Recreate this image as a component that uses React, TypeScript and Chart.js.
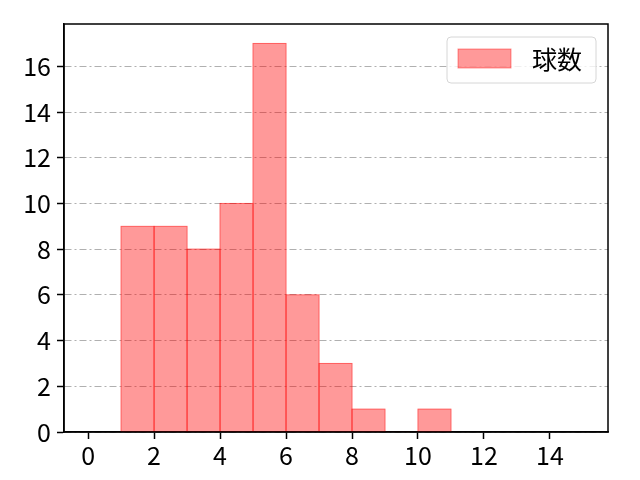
import { useEffect, useRef } from "react";
import { Chart, registerables } from "chart.js";

Chart.register(...registerables);

// histogram bins (left edges, width 1) and counts
const binStarts = [1, 2, 3, 4, 5, 6, 7, 8, 9, 10];
const counts = [9, 9, 8, 10, 17, 6, 3, 1, 0, 1];
const legendLabel = "球数";

const xMin = -0.73;
const xMax = 15.76;
const yMax = 17.85;

const FONT = "'Noto Sans CJK JP', 'Noto Sans', sans-serif";
const FILL = "rgba(255, 0, 0, 0.4)";
const EDGE = "rgba(255, 0, 0, 0.4)";

// matplotlib-style edges: stroke centred on each bar outline
const edgePlugin = {
  id: "barEdges",
  afterDatasetsDraw(chart: Chart) {
    const { ctx } = chart;
    const meta = chart.getDatasetMeta(0);
    ctx.save();
    ctx.strokeStyle = EDGE;
    ctx.lineWidth = 1;
    meta.data.forEach((el: any) => {
      const { x, y, base, width } = el.getProps(["x", "y", "base", "width"], true);
      if (Math.abs(base - y) < 0.5) return;
      ctx.strokeRect(x - width / 2, y, width, base - y);
    });
    ctx.restore();
  },
};

const framePlugin = {
  id: "frameAndLegend",
  afterDraw(chart: Chart) {
    const { ctx, chartArea } = chart;
    const { left, top, right, bottom } = chartArea;
    ctx.save();
    // box around plot
    ctx.strokeStyle = "#000";
    ctx.lineWidth = 1.5;
    ctx.strokeRect(left, top, right - left, bottom - top);

    // legend inside, upper right
    const w = 149;
    const h = 46;
    const lx = right - 12 - w;
    const ly = top + 13;
    ctx.beginPath();
    ctx.roundRect(lx, ly, w, h, 4);
    ctx.fillStyle = "rgba(255,255,255,0.8)";
    ctx.fill();
    ctx.strokeStyle = "#d6d6d6";
    ctx.lineWidth = 1;
    ctx.stroke();

    ctx.fillStyle = FILL;
    ctx.fillRect(lx + 11, ly + 12, 53, 19);
    ctx.strokeStyle = EDGE;
    ctx.strokeRect(lx + 11, ly + 12, 53, 19);

    ctx.fillStyle = "#000";
    ctx.font = `25px ${FONT}`;
    ctx.textBaseline = "middle";
    ctx.textAlign = "left";
    ctx.fillText(legendLabel, lx + 85, ly + 22);
    ctx.restore();
  },
};

export default function App() {
  const chartRef = useRef<HTMLCanvasElement | null>(null);
  const chartInstance = useRef<Chart | null>(null);

  useEffect(() => {
    document.body.style.margin = "0";
    if (!chartRef.current) return;
    if (chartInstance.current) chartInstance.current.destroy();
    const ctx = chartRef.current.getContext("2d");
    if (!ctx) return;

    const data = binStarts.map((s, i) => ({ x: s + 0.5, y: counts[i] }));

    chartInstance.current = new Chart(ctx, {
      type: "bar",
      data: {
        datasets: [
          {
            label: legendLabel,
            data,
            backgroundColor: FILL,
            borderWidth: 0,
            barPercentage: 1,
            categoryPercentage: 1,
          },
        ],
      },
      options: {
        responsive: false,
        animation: false,
        layout: { padding: { top: 24, right: 32, left: 0, bottom: 0 } },
        plugins: {
          legend: { display: false },
          tooltip: { enabled: false },
        },
        scales: {
          x: {
            type: "linear",
            min: xMin,
            max: xMax,
            offset: false,
            afterFit: (scale) => {
              scale.height = 48;
            },
            ticks: {
              stepSize: 2,
              includeBounds: false,
              color: "#000",
              padding: 1,
              font: { family: FONT, size: 25 },
            },
            grid: {
              offset: false,
              drawOnChartArea: false,
              drawTicks: true,
              tickLength: 7,
              tickColor: "#000",
              tickWidth: 1.5,
            },
            border: { color: "#000", width: 1.5 },
          },
          y: {
            min: 0,
            max: yMax,
            afterFit: (scale) => {
              scale.width = 64;
            },
            ticks: {
              stepSize: 2,
              includeBounds: false,
              color: "#000",
              padding: 6,
              font: { family: FONT, size: 25 },
            },
            grid: {
              color: "#b0b0b0",
              lineWidth: 1,
              tickLength: 7,
              tickColor: "#000",
              tickWidth: 1.5,
              tickBorderDash: [],
            },
            border: { color: "#000", width: 1.5, dash: [7, 3, 2, 3] },
          },
        },
      },
      plugins: [edgePlugin, framePlugin],
    });

    return () => {
      if (chartInstance.current) {
        chartInstance.current.destroy();
        chartInstance.current = null;
      }
    };
  }, []);

  return (
    <div style={{ width: 640, height: 480 }}>
      <canvas ref={chartRef} width={640} height={480} />
    </div>
  );
}
